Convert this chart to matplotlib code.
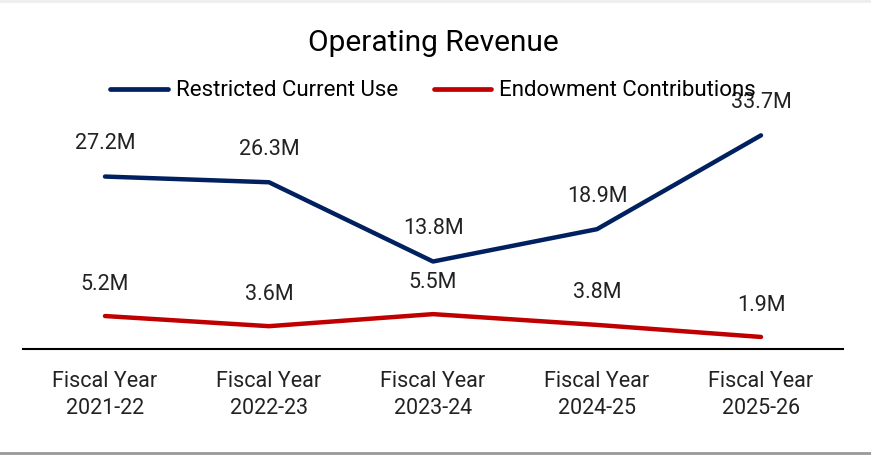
import matplotlib.pyplot as plt
from matplotlib.lines import Line2D

plt.rcParams['font.family'] = ['Roboto', 'DejaVu Sans']

years = ['Fiscal Year\n2021-22', 'Fiscal Year\n2022-23', 'Fiscal Year\n2023-24',
         'Fiscal Year\n2024-25', 'Fiscal Year\n2025-26']
restricted = [27.2, 26.3, 13.8, 18.9, 33.7]
endowment = [5.2, 3.6, 5.5, 3.8, 1.9]

blue = '#002060'
red = '#C00000'

fig = plt.figure(figsize=(8.71, 4.55), dpi=100)
# plot area: x 23..843 px, zero line at y=349 px
ax = fig.add_axes([23 / 871, (455 - 349) / 455, 820 / 871, 249 / 455])

x = list(range(len(years)))
ax.plot(x, restricted, color=blue, lw=3.2, solid_capstyle='round', solid_joinstyle='round')
ax.plot(x, endowment, color=red, lw=3.2, solid_capstyle='round', solid_joinstyle='round')

for xi, v in zip(x, restricted):
    ax.annotate(f'{v}M', (xi, v), xytext=(0, 23.5), textcoords='offset points',
                ha='center', va='center', fontsize=15.5, color='#222222')
for xi, v in zip(x, endowment):
    ax.annotate(f'{v}M', (xi, v), xytext=(0, 23), textcoords='offset points',
                ha='center', va='center', fontsize=15.5, color='#222222')

ax.set_xlim(-0.5, 4.5)
ax.set_ylim(0, 249 / 6.34)
ax.set_xticks(x)
ax.set_xticklabels(years, fontsize=15.5, color='#222222', linespacing=1.35)
ax.tick_params(axis='x', length=0, pad=16)
ax.set_yticks([])
for s in ['top', 'right', 'left']:
    ax.spines[s].set_visible(False)
ax.spines['bottom'].set_linewidth(1.5)
ax.spines['bottom'].set_color('black')

fig.text(433 / 871, 1 - 43 / 455, 'Operating Revenue', ha='center', va='center',
         fontsize=21.5, color='black')

handles = [Line2D([], [], color=blue, lw=3.4, solid_capstyle='round'),
           Line2D([], [], color=red, lw=3.4, solid_capstyle='round')]
fig.legend(handles, ['Restricted Current Use', 'Endowment Contributions'],
           loc='center', bbox_to_anchor=(433 / 871, 1 - 91 / 455), ncol=2,
           frameon=False, fontsize=16, handlelength=2.6, handletextpad=0.35,
           columnspacing=1.6)

# thin frame lines at the top and bottom edges
fig.add_artist(Line2D([0, 1], [1 - 1 / 455, 1 - 1 / 455], color='#eeeeee', lw=2,
                      transform=fig.transFigure))
fig.add_artist(Line2D([0, 1], [2 / 455, 2 / 455], color='#999999', lw=2,
                      transform=fig.transFigure))

fig.savefig('out.png', dpi=100)
